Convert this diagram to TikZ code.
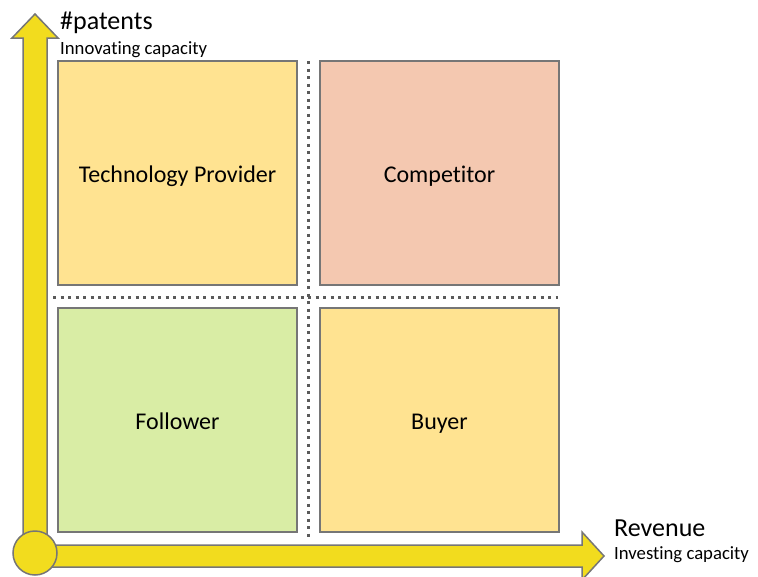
\documentclass[tikz,border=0pt]{standalone}
\usepackage{fontspec}
\setmainfont{Carlito}[Ligatures={NoCommon}]
\definecolor{boxyellow}{HTML}{FFE391}
\definecolor{boxsalmon}{HTML}{F4C8B0}
\definecolor{boxgreen}{HTML}{D9EDA5}
\definecolor{arrowyellow}{HTML}{F2DC1E}
\definecolor{edgegray}{HTML}{767676}
\definecolor{dotgray}{HTML}{5A5A5A}
\begin{document}
\begin{tikzpicture}[x=1pt,y=-1pt,
  quad/.style={draw=edgegray, line width=1.8pt, minimum width=239pt, minimum height=224pt, inner sep=0pt, text height=20pt, text depth=2pt, font=\fontsize{24}{28}\selectfont},
  axis/.style={draw=edgegray, line width=1.5pt, fill=arrowyellow, line join=miter},
  sep/.style={draw=dotgray, line width=3pt, dash pattern=on 3pt off 4.5pt},
  big/.style={font=\fontsize{26}{30}\selectfont, inner sep=0pt, anchor=base west},
  small/.style={font=\fontsize{18.7}{22}\selectfont, inner sep=0pt, anchor=base west}]
\useasboundingbox (0,0) rectangle (758,576);
% quadrants
\node[quad, fill=boxyellow] (tl) at (177.5,173) {Technology Provider};
\node[quad, fill=boxsalmon] (tr) at (439.5,173) {Competitor};
\node[quad, fill=boxgreen] (bl) at (177.5,420) {Follower};
\node[quad, fill=boxyellow] (br) at (439.5,420) {Buyer};
% dotted separators
\coordinate (vtop) at (308,61);
\coordinate (vbot) at (308,540);
\coordinate (hl) at (53,297);
\coordinate (hr) at (558,297);
\draw[sep] (vtop) -- (vbot);
\draw[sep] (hl) -- (hr);
% axes
\draw[axis] (23,548) -- (23,38) -- (12,38) -- (35,14) -- (58,38) -- (47,38) -- (47,548) -- cycle;
\draw[axis] (40,545) -- (582,545) -- (582,532) -- (604,556) -- (582,580) -- (582,567) -- (40,567) -- cycle;
\draw[axis] (35,553) circle[radius=22];
% labels
\node[big] (yl) at (60,29) {\#patents};
\node[small] (ys) at (60,54.5) {Innovating capacity};
\node[big] (xl) at (614,536) {Revenue};
\node[small] (xs) at (614,559) {Investing capacity};
\end{tikzpicture}
\end{document}
